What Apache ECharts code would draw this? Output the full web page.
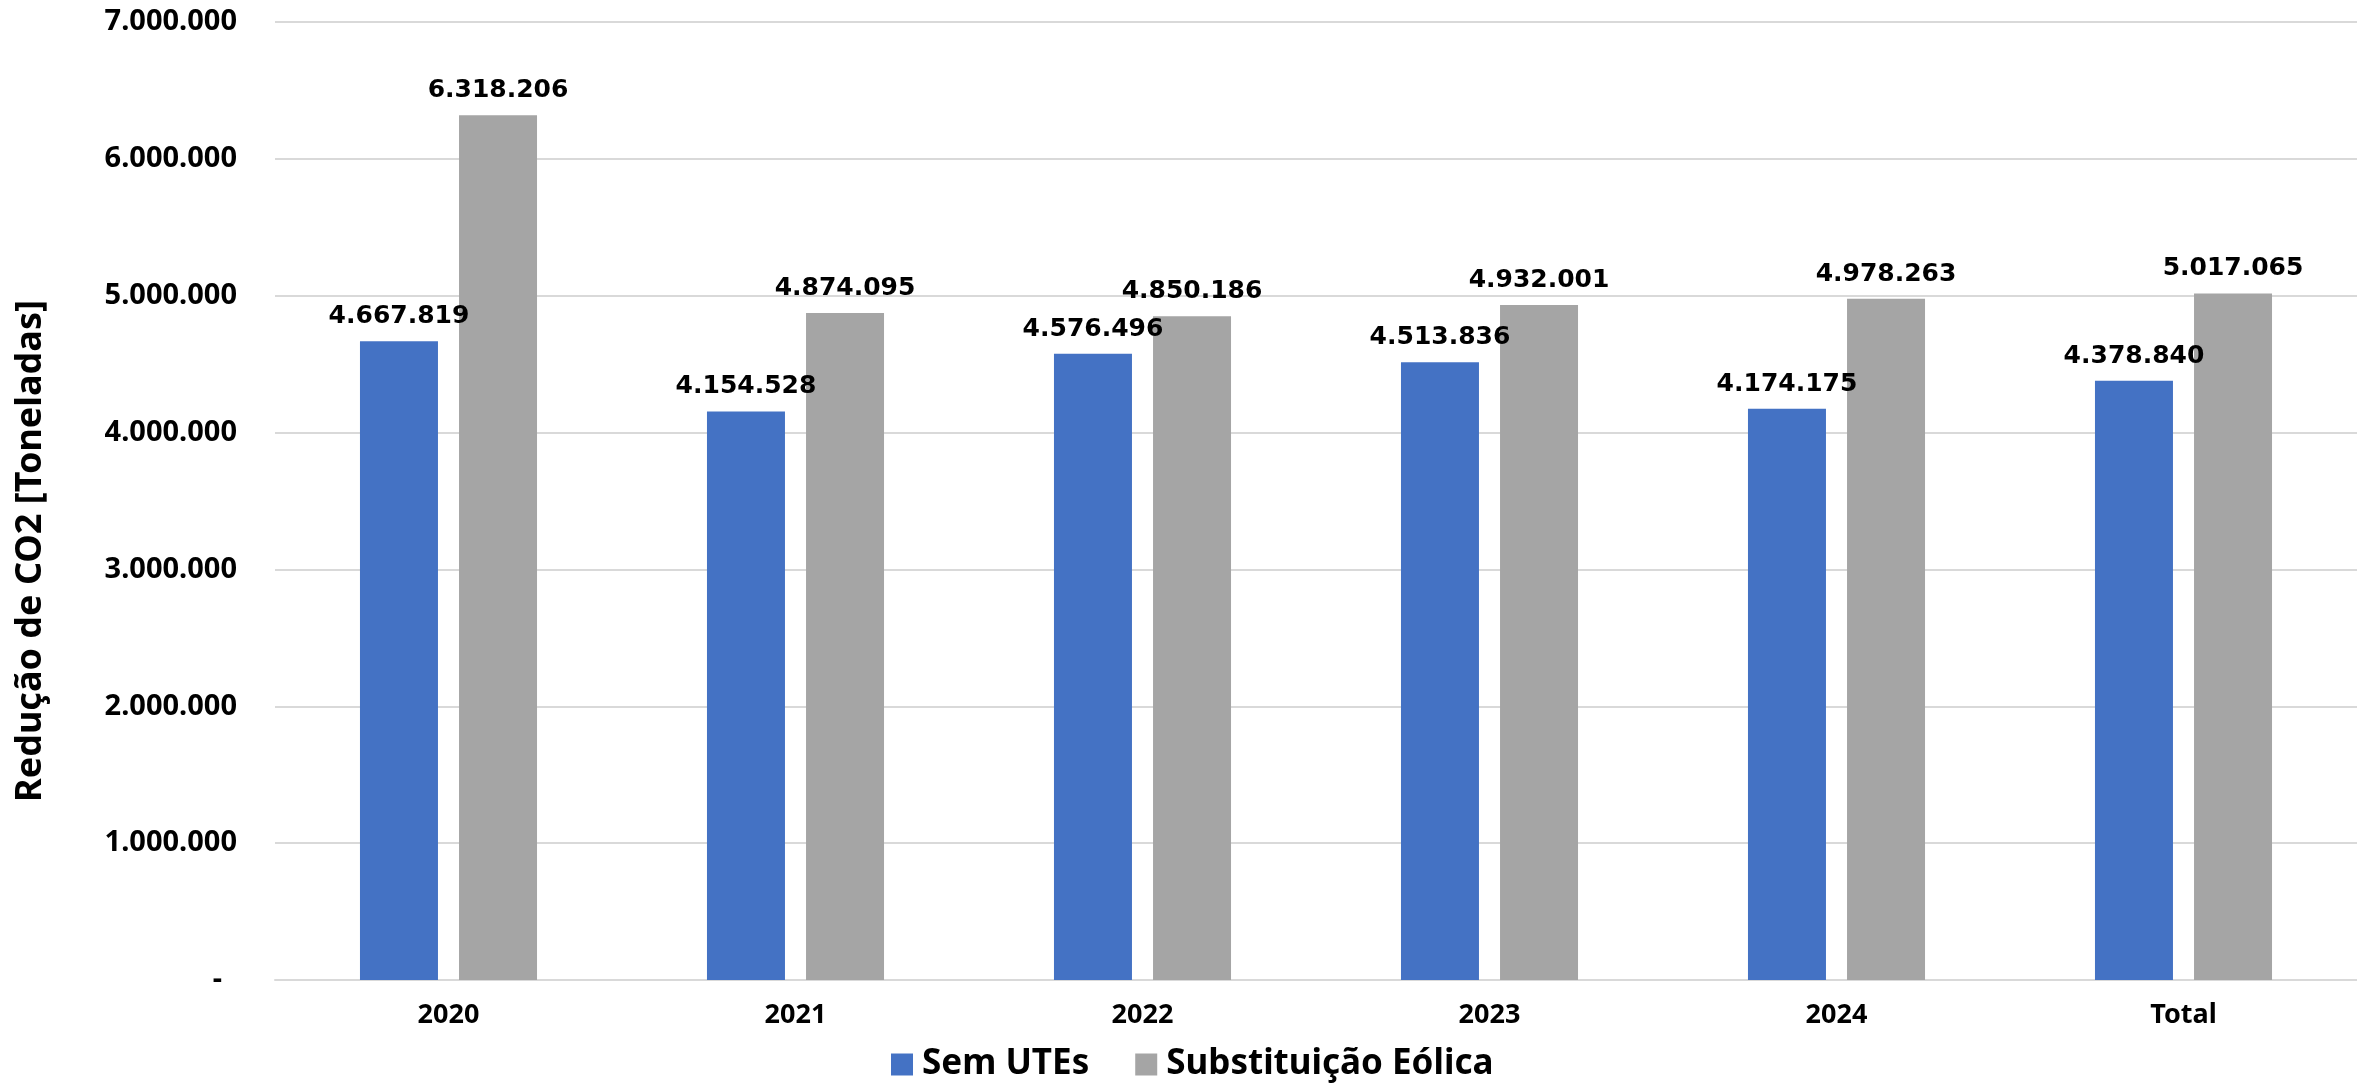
<!DOCTYPE html>
<html>
<head>
<meta charset="utf-8">
<script src="https://cdn.jsdelivr.net/npm/echarts@6/dist/echarts.min.js"></script>
<style>
html,body{margin:0;padding:0;background:#fff;}
#chart{width:2357px;height:1089px;}
</style>
</head>
<body>
<div id="chart"></div>
<script>
const categories = ['2020', '2021', '2022', '2023', '2024', 'Total'];
const semUTEs = [4667819, 4154528, 4576496, 4513836, 4174175, 4378840];
const substituicaoEolica = [6318206, 4874095, 4850186, 4932001, 4978263, 5017065];
const seriesNames = ['Sem UTEs', 'Substituição Eólica'];
const yAxisName = 'Redução de CO2 [Toneladas]';

function fmt(v) {
  if (v === 0) return '-';
  return String(Math.round(v)).replace(/\B(?=(\d{3})+(?!\d))/g, '.');
}

const chart = echarts.init(document.getElementById('chart'));
const labelStyle = {
  show: true,
  position: 'top',
  distance: 12,
  fontFamily: 'DejaVu Sans',
  fontWeight: 'bold',
  fontSize: 25,
  color: '#000',
  formatter: p => fmt(p.value)
};
chart.setOption({
  animation: false,
  backgroundColor: '#fff',
  grid: { left: 275, top: 22, width: 2090, bottom: 109, containLabel: false },
  legend: {
    data: seriesNames,
    bottom: 2,
    left: 886,
    itemWidth: 22,
    itemHeight: 22,
    itemGap: 46,
    icon: 'rect',
    textStyle: { fontFamily: 'Noto Sans', fontWeight: 'bold', fontSize: 35, color: '#000', padding: [0, 0, 0, 4] }
  },
  xAxis: {
    type: 'category',
    data: categories,
    axisLine: { show: true, lineStyle: { color: '#D9D9D9', width: 2 } },
    axisTick: { show: false },
    axisLabel: { fontFamily: 'Noto Sans', fontWeight: 'bold', fontSize: 27, color: '#000', margin: 22 }
  },
  yAxis: {
    type: 'value',
    min: 0,
    max: 7000000,
    interval: 1000000,
    name: yAxisName,
    nameLocation: 'middle',
    nameGap: 226,
    nameTextStyle: { fontFamily: 'Noto Sans', fontWeight: 'bold', fontSize: 36, color: '#000', padding: [0, 100, 0, 0] },
    axisLine: { show: false },
    axisTick: { show: false },
    splitLine: { lineStyle: { color: '#D9D9D9', width: 2 } },
    axisLabel: {
      fontFamily: 'Noto Sans', fontWeight: 'bold', fontSize: 29, color: '#000', margin: 38,
      formatter: v => (v === 0 ? '-\u00a0\u00a0' : fmt(v))
    }
  },
  series: [
    { name: seriesNames[0], type: 'bar', data: semUTEs, barWidth: 78, barGap: '27%', itemStyle: { color: '#4472C4' }, label: labelStyle },
    { name: seriesNames[1], type: 'bar', data: substituicaoEolica, barWidth: 78, barGap: '27%', itemStyle: { color: '#A5A5A5' }, label: labelStyle }
  ]
});
</script>
</body>
</html>
